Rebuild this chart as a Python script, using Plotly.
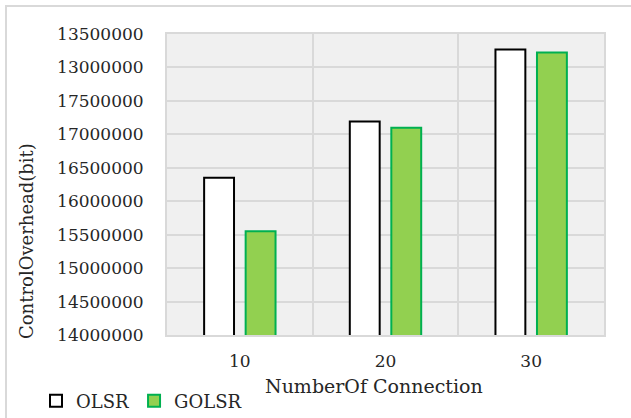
import plotly.graph_objects as go

categories = ["10", "20", "30"]
olsr_values = [16350000, 17190000, 18270000]
golsr_values = [15550000, 17100000, 18225000]
y_tickvals = [14000000, 14500000, 15000000, 15500000, 16000000, 16500000,
              17000000, 17500000, 18000000, 18500000]
y_ticktext = ["14000000", "14500000", "15000000", "15500000", "16000000",
              "16500000", "17000000", "17500000", "13000000", "13500000"]

x_pos = [1, 2, 3]
FONT = "DejaVu Serif"
TXT = "#262626"

fig = go.Figure()
fig.add_trace(go.Bar(
    x=x_pos, y=olsr_values, name="OLSR",
    marker=dict(color="white", line=dict(color="black", width=2)),
))
fig.add_trace(go.Bar(
    x=x_pos, y=golsr_values, name="GOLSR",
    marker=dict(color="#92d050", line=dict(color="#00b050", width=2)),
))

W, H = 631, 418
L, R, T, B = 167, 27, 34, 83
pw, ph = W - L - R, H - T - B

def px(xp):
    return (xp - L) / pw

def py(yp):
    return (H - B - yp) / ph

fig.update_layout(
    width=W, height=H,
    margin=dict(l=L, r=R, t=T, b=B, autoexpand=False),
    paper_bgcolor="white",
    plot_bgcolor="#f0f0f0",
    barmode="group",
    bargap=0.43,
    bargroupgap=0.28,
    font=dict(family=FONT, color=TXT, size=16),
    xaxis=dict(
        range=[0.5, 3.5], automargin=False,
        tickvals=x_pos, ticktext=categories,
        showgrid=False, zeroline=False,
        showline=True, linecolor="#d9d9d9", linewidth=2, mirror=True,
        ticks="outside", ticklen=10, tickcolor="rgba(0,0,0,0)",
        tickfont=dict(size=17),
        minor=dict(tick0=0.5, dtick=1, showgrid=True, gridcolor="#d9d9d9", gridwidth=2),
    ),
    yaxis=dict(
        range=[14000000, 18500000], automargin=False,
        tickvals=y_tickvals, ticktext=y_ticktext,
        showgrid=True, gridcolor="#d9d9d9", gridwidth=2,
        zeroline=False,
        showline=True, linecolor="#d9d9d9", linewidth=2, mirror=True,
        ticks="outside", ticklen=18, tickcolor="rgba(0,0,0,0)",
        tickfont=dict(size=17),
    ),
    legend=dict(
        orientation="h", x=px(36), y=py(401), xanchor="left", yanchor="middle",
        font=dict(size=18), itemwidth=30, tracegroupgap=0,
        bgcolor="rgba(0,0,0,0)",
    ),
    showlegend=True,
    annotations=[
        dict(text="NumberOf Connection", xref="paper", yref="paper",
             x=px(374), y=py(386), xanchor="center", yanchor="middle",
             showarrow=False, font=dict(size=19, family=FONT, color=TXT)),
        dict(text="ControlOverhead(bit)", xref="paper", yref="paper",
             x=px(26), y=py(241), xanchor="center", yanchor="middle",
             textangle=-90, showarrow=False,
             font=dict(size=18, family=FONT, color=TXT)),
    ],
    shapes=[
        dict(type="rect", xref="paper", yref="paper",
             x0=px(6), y0=py(430), x1=px(640), y1=py(6),
             line=dict(color="#d9d9d9", width=2), fillcolor="rgba(0,0,0,0)",
             layer="below"),
    ],
)

fig.write_html("out.html", post_script="document.body.style.margin='0';",
               config={"displayModeBar": False})
